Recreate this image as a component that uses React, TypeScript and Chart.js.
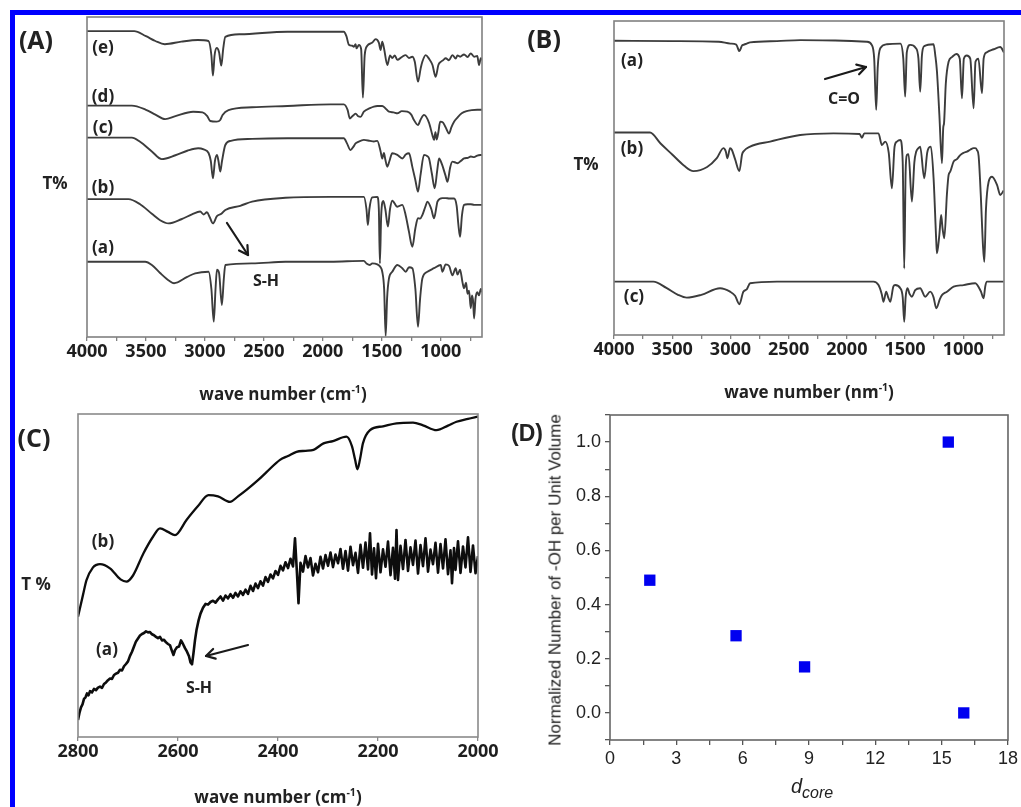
import React, { useEffect, useRef } from "react";
import { Chart, registerables } from "chart.js";

Chart.register(...registerables);

type P = [number, number];

// ---------- Panel A : FTIR spectra (wave number, relative T%) ----------
const specA_e: P[] = [[4000,95.6],[3600,95.6],[3500,94],[3420,92.5],[3340,91.5],[3200,92.3],[3060,92.8],[2970,92.5],[2945,88],[2932,81.7],[2918,88],[2900,90.3],[2880,89],[2861,84.8],[2845,90],[2827,93.8],[2700,94.6],[2300,95.4],[1935,95.4],[1822,95.4],[1800,94],[1779,91.3],[1750,91],[1737,90.7],[1722,91.5],[1714,90.2],[1694,91.3],[1675,90],[1660,74.8],[1645,88],[1623,91],[1580,92],[1552,93.1],[1525,92],[1510,89.7],[1496,92.3],[1480,90],[1453,85],[1430,88],[1411,87.2],[1390,88],[1368,86.6],[1330,87.5],[1297,88.1],[1270,87.2],[1241,87.6],[1220,86],[1193,79.8],[1170,84],[1156,86],[1128,88.1],[1100,87],[1070,85],[1043,81.3],[1020,85],[1000,86],[980,86.5],[958,87.1],[930,86.5],[901,88.1],[873,87],[858,88],[836,87.6],[802,88.3],[773,87.5],[745,88.6],[717,87.6],[690,87.8],[675,85],[660,87.1],[650,86.5]];
const specA_d: P[] = [[4000,72.3],[3620,72.3],[3500,71],[3420,69.5],[3337,68.1],[3250,69],[3100,70.4],[3020,70.2],[2980,69],[2955,67.5],[2900,67.3],[2870,67.8],[2850,69.4],[2800,70.9],[2600,71.8],[2300,72.2],[1935,72.7],[1822,72.7],[1790,71],[1771,68.3],[1750,69],[1737,69.4],[1722,69.8],[1700,69],[1680,68.8],[1652,70.4],[1600,71.5],[1567,72],[1538,72.2],[1496,72.2],[1470,71.5],[1439,70.4],[1400,70.2],[1368,69.9],[1330,70.6],[1283,70.4],[1250,69.5],[1230,68],[1193,66.25],[1170,68],[1142,69.4],[1100,67],[1070,63],[1057,61.6],[1045,64],[1034,61.7],[1020,64],[1005,67.3],[980,67],[958,65.5],[929,63.6],[910,65.5],[887,67.3],[860,68.5],[822,69.9],[780,70.6],[737,70.9],[690,71],[650,71]];
const specA_c: P[] = [[4000,62.3],[3620,62.3],[3550,61],[3450,58],[3366,55.6],[3250,56.8],[3150,58.2],[3057,59],[3010,58.6],[2969,57.5],[2950,55],[2932,49.6],[2915,55],[2898,56.9],[2885,55],[2870,51.7],[2855,55],[2827,60],[2780,61.3],[2600,61.9],[2300,62.1],[1935,62.1],[1822,62.1],[1795,60.5],[1765,58.4],[1740,59.5],[1722,60.5],[1700,61],[1652,61.6],[1600,61.3],[1567,61.1],[1538,61.3],[1510,58],[1496,55.8],[1482,57.5],[1470,55.5],[1453,53.2],[1435,55],[1411,57.4],[1368,56.9],[1326,55.8],[1297,57],[1269,57.4],[1240,53],[1215,49],[1193,45.4],[1170,51],[1142,56.9],[1113,56.5],[1099,55.8],[1075,51],[1051,46.5],[1030,52],[1014,55.8],[990,54],[960,50.5],[943,48.5],[920,53],[901,54.8],[873,54.5],[858,54.3],[830,55],[802,55.8],[770,56],[745,56.4],[717,56.2],[690,56.7],[650,56.9]];
const specA_b: P[] = [[4000,43.1],[3649,43.1],[3550,41.5],[3450,38.5],[3380,36.5],[3309,35.5],[3200,36.8],[3110,38.3],[3040,39.2],[3011,38.3],[2983,39],[2960,37.5],[2932,35.5],[2898,37.8],[2860,38.5],[2827,39.7],[2700,41],[2600,42.3],[2317,43.5],[1935,43.8],[1700,43.8],[1652,43.8],[1630,40],[1618,35],[1605,40],[1581,43.6],[1538,43.8],[1525,40],[1516,23],[1505,38],[1487,42.5],[1470,40],[1448,34.5],[1430,40],[1411,42.6],[1368,40.7],[1326,41.3],[1297,38],[1270,33],[1241,28.2],[1215,34],[1193,37.1],[1175,37],[1156,38.1],[1128,41],[1113,42.3],[1080,40],[1057,37.1],[1035,41],[1028,42.3],[986,43.4],[958,43.4],[930,43.3],[887,43.3],[865,41],[850,35],[836,31.3],[820,38],[802,41.3],[773,41.5],[745,41.5],[717,41.3],[690,41.3],[650,41.3]];
const specA_a: P[] = [[4000,23.5],[3507,23.5],[3450,22.5],[3380,20],[3300,17.5],[3262,16.8],[3150,18.8],[3082,19.9],[2969,20.4],[2945,15],[2925,4.8],[2910,15],[2898,21],[2880,20],[2856,10],[2840,18],[2827,22.5],[2600,23],[2317,23.5],[1935,23.5],[1652,23.8],[1630,23],[1600,22.5],[1581,23],[1538,22.7],[1510,21.8],[1496,20.4],[1480,15],[1467,0.3],[1455,12],[1439,18.3],[1411,20.4],[1368,22.5],[1326,21.5],[1297,20.4],[1269,21.8],[1241,21.5],[1215,15],[1193,3.2],[1175,12],[1156,18.3],[1113,20.4],[1057,21.5],[1000,22.5],[986,20.4],[958,22.7],[929,22.2],[901,19.3],[873,21.5],[858,19.5],[836,21],[815,17],[802,15.2],[785,17],[773,13.5],[760,14.5],[745,9],[735,13],[725,11],[717,5.8],[705,12],[690,14],[675,13],[660,15],[650,14]];

// ---------- Panel B ----------
const specB_a: P[] = [[4000,93.7],[3500,93.6],[3100,93.4],[3000,92.8],[2950,92.5],[2923,90.4],[2900,92.2],[2889,92.4],[2860,92.8],[2831,93.2],[2600,93.6],[2401,93.9],[2100,93.8],[1828,93.4],[1785,92.3],[1765,88],[1748,71.7],[1735,85],[1713,91.3],[1656,92.6],[1540,92.8],[1515,88],[1499,75.9],[1485,90],[1456,92.4],[1410,91.5],[1385,88],[1370,77.5],[1355,89],[1335,92],[1255,92.6],[1240,89],[1226,84],[1205,70],[1183,54.7],[1172,66],[1165,67.5],[1150,80],[1126,87],[1097,88.5],[1060,89.5],[1030,88],[1011,75.4],[995,88],[970,89],[940,88],[911,72.2],[895,87],[870,88],[839,77],[825,88],[800,90],[739,91],[682,91.7],[650,90]];
const specB_b: P[] = [[4000,64.5],[3691,64.5],[3600,61],[3500,57.5],[3400,54],[3318,52.2],[3200,53.5],[3117,56.3],[3060,59.5],[3040,58.5],[3026,56.3],[3003,59.5],[2988,59],[2960,56],[2923,52.2],[2900,57.5],[2889,58.4],[2831,60],[2659,61.6],[2401,63.7],[2115,64.2],[1890,64],[1871,62.8],[1850,64.2],[1728,64.2],[1699,60.5],[1670,61.6],[1640,58],[1613,46.7],[1590,60],[1570,61.6],[1541,62.1],[1520,55],[1507,21.2],[1495,52],[1484,57.3],[1470,57.6],[1441,42.5],[1420,55],[1404,58.4],[1385,59.5],[1370,60],[1335,49.9],[1310,58],[1298,59.5],[1278,60],[1255,50],[1232,30],[1226,26],[1205,32],[1190,38.2],[1178,34],[1163,30.8],[1140,45],[1126,50.9],[1112,52],[1083,55.2],[1054,56],[1026,57.3],[997,58],[968,58.4],[940,59],[911,59.5],[897,59.5],[882,58.9],[868,57],[850,45],[830,28],[819,23.3],[805,40],[782,48.8],[753,50.4],[710,47.8],[682,44.6],[653,46]];
const specB_c: P[] = [[4000,17],[3662,17],[3550,15],[3450,12.8],[3375,11.9],[3250,12.8],[3089,14.9],[3003,13.8],[2960,12.5],[2923,9.8],[2889,13.8],[2860,14.5],[2831,16.5],[2600,17],[2401,17],[1771,17],[1728,15.9],[1700,13],[1685,10.6],[1662,13.8],[1645,12],[1627,10.6],[1600,15.5],[1585,15.9],[1541,14.9],[1520,12],[1507,4.2],[1495,12],[1479,14.9],[1460,13],[1441,12.2],[1413,14.3],[1370,14.9],[1327,12.2],[1284,13.8],[1255,12],[1232,8.5],[1200,11.5],[1183,12.7],[1140,13.8],[1083,15.4],[997,15.9],[897,16.5],[850,14],[825,11.7],[811,15.5],[796,17],[653,17]];

// ---------- Panel C ----------
const specC_b: P[] = [[2800,37.2],[2790,44],[2783,48.6],[2770,52.5],[2763,53.3],[2756,53.5],[2736,52.2],[2715,48.8],[2703,48.1],[2690,50],[2669,56.9],[2650,62],[2636,64.6],[2620,63.5],[2606,62.5],[2583,67.2],[2560,71.5],[2539,74.9],[2520,74.5],[2496,72.8],[2480,74.5],[2463,76.5],[2440,79.5],[2423,82],[2396,85.8],[2380,87],[2363,88.3],[2345,88.6],[2329,88.9],[2309,90.9],[2290,91.6],[2263,93],[2252,90],[2246,86],[2241,82.9],[2236,86],[2230,91],[2216,95],[2190,96.2],[2163,97.1],[2130,97.3],[2110,96.5],[2083,95],[2060,96.4],[2043,97.6],[2020,98.5],[2000,99.2]];
const specC_a: P[] = [[2800,5.3],[2797,7.5],[2794,9.2],[2791,10.1],[2788,11.8],[2785,12.3],[2782,13.5],[2779,12.9],[2776,14.2],[2772,13.8],[2768,14.9],[2764,14.5],[2760,15.3],[2756,15.6],[2752,15.2],[2748,16.4],[2744,16.9],[2740,17.6],[2736,18.1],[2732,18.0],[2728,19.2],[2724,19.6],[2720,19.9],[2716,20.8],[2712,20.6],[2708,21.9],[2704,22.6],[2700,23.4],[2696,25.1],[2692,26.4],[2688,28.0],[2684,29.6],[2680,30.5],[2676,31.4],[2672,31.9],[2668,32.2],[2664,32.7],[2660,32.4],[2656,32.5],[2652,31.8],[2648,31.5],[2644,31.0],[2640,30.6],[2636,31.0],[2632,29.9],[2628,30.1],[2624,29.3],[2620,28.8],[2616,28.4],[2612,26.6],[2609,25.4],[2606,26.9],[2602,27.8],[2598,28.0],[2594,29.9],[2590,28.8],[2586,27.5],[2582,26.4],[2578,25.0],[2575,23.1],[2572,22.5],[2569,26.0],[2566,30.0],[2563,33.1],[2559,36.0],[2555,38.2],[2550,40.0],[2545,41.2],[2540,41.0],[2535,41.8],[2530,42.2],[2525,41.6],
  [2520,42.6],[2515,43.5],[2510,42.2],[2505,43.8],[2500,42.9],[2495,44.2],[2490,43.1],[2485,44.6],[2480,43.5],[2475,45.1],[2470,44.0],[2465,45.6],[2460,44.3],[2455,46.8],[2450,45.2],[2445,47.5],[2440,46.1],[2435,48.2],[2430,46.9],[2425,49.5],[2420,48.0],[2415,50.3],[2410,49.1],[2405,51.4],[2400,50.2],[2395,53.0],[2390,51.6],[2385,54.1],[2380,52.3],[2375,55.2],[2370,52.8],[2366,61.5],[2362,50.5],[2359,41.4],[2355,53.9],[2350,51.2],[2345,56.0],[2340,52.5],[2335,55.4],[2330,50.0],[2325,53.6],[2320,51.0],[2315,55.8],[2310,52.2],[2305,56.3],[2300,53.0],[2295,57.1],[2290,52.6],[2285,56.5],[2280,53.8],[2275,58.2],[2270,52.1],[2265,57.6],[2260,51.5],[2255,58.9],[2250,53.2],[2245,57.0],[2240,50.8],[2235,59.5],[2230,52.4],[2225,60.2],[2220,51.9],[2216,63.1],[2212,50.3],[2208,58.4],[2204,49.2],[2200,59.8],[2195,51.0],[2190,58.1],[2185,52.7],[2180,60.5],[2175,50.1],[2170,58.6],[2166,49.0],[2163,64.1],[2160,48.6],[2155,59.2],[2150,52.0],[2145,61.0],[2140,51.4],[2135,58.7],[2130,53.3],[2125,60.8],[2120,50.6],[2115,59.4],[2110,52.9],[2105,61.5],[2100,51.2],[2095,58.0],[2090,53.5],[2085,60.1],[2080,50.9],[2075,59.7],[2070,52.2],[2065,61.2],[2060,50.4],[2055,57.8],[2052,47.6],[2048,58.5],[2045,51.7],[2040,60.6],[2035,50.8],[2030,59.0],[2025,52.5],[2020,61.8],[2015,51.1],[2010,59.3],[2005,50.7],[2000,56.0]];

// ---------- Panel D ----------
const dCore = [1.8, 5.7, 8.8, 15.3, 16.0];
const ohNorm = [0.49, 0.285, 0.17, 1.0, 0.0];

// ---------- tick lists ----------
const irTicks = [4000, 3750, 3500, 3250, 3000, 2750, 2500, 2250, 2000, 1750, 1500, 1250, 1000, 750];
const irTickLabels = ["4000", "", "3500", "", "3000", "", "2500", "", "2000", "", "1500", "", "1000", ""];
const cTicks = [2800, 2600, 2400, 2200, 2000];
const cTickLabels = ["2800", "2600", "2400", "2200", "2000"];
const dXTicks = [0, 1.5, 3, 4.5, 6, 7.5, 9, 10.5, 12, 13.5, 15, 16.5, 18];
const dXTickLabels = ["0", "", "3", "", "6", "", "9", "", "12", "", "15", "", "18"];
const dYTicks = [-0.1, 0, 0.1, 0.2, 0.3, 0.4, 0.5, 0.6, 0.7, 0.8, 0.9, 1.0, 1.1];
const dYTickLabels = ["", "0.0", "", "0.2", "", "0.4", "", "0.6", "", "0.8", "", "1.0", ""];

const SANS = "'Open Sans', 'DejaVu Sans', sans-serif";
const ARIAL = "'Liberation Sans', Arial, sans-serif";

function framePlugin(color: string, width: number) {
  return {
    id: "frame",
    afterDraw(chart: any) {
      const { ctx, chartArea } = chart;
      ctx.save();
      ctx.strokeStyle = color;
      ctx.lineWidth = width;
      ctx.strokeRect(chartArea.left, chartArea.top, chartArea.right - chartArea.left, chartArea.bottom - chartArea.top);
      ctx.restore();
    },
  };
}

interface SpecOpts {
  series: P[][];
  smooth: boolean[];
  widths: number[];
  xMin: number;
  xMax: number;
  ticks: number[];
  tickLabels: string[];
  padTop: number;
  padRight: number;
  yWidth: number;
  xHeight: number;
  lineColor: string;
  frameColor: string;
}

function spectrumConfig(o: SpecOpts): any {
  return {
    type: "line",
    data: {
      datasets: o.series.map((s, i) => ({
        data: s.map(([x, y]) => ({ x, y })),
        borderColor: o.lineColor,
        borderWidth: o.widths[i],
        pointRadius: 0,
        tension: o.smooth[i] ? 0.4 : 0,
        cubicInterpolationMode: o.smooth[i] ? "monotone" : "default",
        fill: false,
        borderJoinStyle: "round",
      })),
    },
    options: {
      responsive: false,
      animation: false,
      events: [],
      layout: { padding: { top: o.padTop, right: o.padRight, left: 0, bottom: 0 } },
      plugins: { legend: { display: false }, tooltip: { enabled: false } },
      scales: {
        x: {
          type: "linear",
          reverse: true,
          min: o.xMin,
          max: o.xMax,
          afterBuildTicks: (s: any) => {
            s.ticks = o.ticks.map((v) => ({ value: v }));
          },
          ticks: {
            autoSkip: false,
            maxRotation: 0,
            padding: 0,
            color: "#1e1e1e",
            font: { family: SANS, weight: "bold", size: 18 },
            callback: (_v: any, i: number) => o.tickLabels[i],
          },
          grid: { drawOnChartArea: false, drawTicks: true, tickLength: 4, color: o.frameColor, lineWidth: 1.3 },
          border: { display: false },
          afterFit: (s: any) => {
            s.height = o.xHeight;
          },
        },
        y: {
          type: "linear",
          min: 0,
          max: 100,
          ticks: { display: false },
          grid: { display: false },
          border: { display: false },
          afterFit: (s: any) => {
            s.width = o.yWidth;
          },
        },
      },
    },
    plugins: [framePlugin(o.frameColor, 1.6)],
  };
}

function scatterConfig(): any {
  return {
    type: "scatter",
    data: {
      datasets: [
        {
          data: dCore.map((x, i) => ({ x, y: ohNorm[i] })),
          pointStyle: "rect",
          pointRadius: 8,
          backgroundColor: "#0000f0",
          borderColor: "#0000f0",
          borderWidth: 0,
        },
      ],
    },
    options: {
      responsive: false,
      animation: false,
      events: [],
      layout: { padding: { top: 15, right: 9, left: 0, bottom: 0 } },
      plugins: { legend: { display: false }, tooltip: { enabled: false } },
      scales: {
        x: {
          type: "linear",
          min: 0,
          max: 18,
          afterBuildTicks: (s: any) => {
            s.ticks = dXTicks.map((v) => ({ value: v }));
          },
          ticks: {
            autoSkip: false,
            maxRotation: 0,
            padding: 3,
            color: "#222",
            font: { family: ARIAL, size: 18 },
            callback: (_v: any, i: number) => dXTickLabels[i],
          },
          grid: { drawOnChartArea: false, drawTicks: true, tickLength: 5, color: "#555", lineWidth: 1.3 },
          border: { display: false },
          afterFit: (s: any) => {
            s.height = 67;
          },
        },
        y: {
          type: "linear",
          min: -0.1,
          max: 1.1,
          afterBuildTicks: (s: any) => {
            s.ticks = dYTicks.map((v) => ({ value: v }));
          },
          ticks: {
            autoSkip: false,
            padding: 4,
            color: "#222",
            font: { family: ARIAL, size: 18 },
            callback: (_v: any, i: number) => dYTickLabels[i],
          },
          grid: { drawOnChartArea: false, drawTicks: true, tickLength: 5, color: "#555", lineWidth: 1.3 },
          border: { display: false },
          afterFit: (s: any) => {
            s.width = 100;
          },
        },
      },
    },
    plugins: [framePlugin("#666", 1.6)],
  };
}

function ChartBox(props: { left: number; top: number; width: number; height: number; make: () => any }) {
  const ref = useRef<HTMLCanvasElement>(null);
  useEffect(() => {
    const chart = new Chart(ref.current as HTMLCanvasElement, props.make());
    return () => chart.destroy();
  }, []);
  return (
    <div style={{ position: "absolute", left: props.left, top: props.top, width: props.width, height: props.height }}>
      <canvas ref={ref} width={props.width} height={props.height} style={{ width: props.width, height: props.height, display: "block" }} />
    </div>
  );
}

function Txt(props: { x: number; y: number; size: number; bold?: boolean; family?: string; rotate?: boolean; italic?: boolean; children: any }) {
  return (
    <div
      style={{
        position: "absolute",
        left: props.x,
        top: props.y,
        transform: "translate(-50%, -50%)" + (props.rotate ? " rotate(-90deg)" : ""),
        fontFamily: props.family || SANS,
        fontSize: props.size,
        fontWeight: props.bold ? 700 : 400,
        fontStyle: props.italic ? "italic" : "normal",
        whiteSpace: "nowrap",
        lineHeight: 1,
        color: "#222",
      }}
    >
      {props.children}
    </div>
  );
}

function Sup(props: { children: any }) {
  return <span style={{ fontSize: "0.62em", position: "relative", top: "-0.65em" }}>{props.children}</span>;
}

function Arrow(props: { x1: number; y1: number; x2: number; y2: number; w?: number }) {
  const { x1, y1, x2, y2 } = props;
  const dx = x2 - x1;
  const dy = y2 - y1;
  const L = Math.hypot(dx, dy);
  const ux = dx / L;
  const uy = dy / L;
  const h = 10;
  const a = Math.PI / 6;
  const p1x = x2 - h * (ux * Math.cos(a) - uy * Math.sin(a));
  const p1y = y2 - h * (uy * Math.cos(a) + ux * Math.sin(a));
  const p2x = x2 - h * (ux * Math.cos(-a) - uy * Math.sin(-a));
  const p2y = y2 - h * (uy * Math.cos(-a) + ux * Math.sin(-a));
  return (
    <g stroke="#1a1a1a" strokeWidth={props.w || 2.2} fill="none" strokeLinecap="round" strokeLinejoin="round">
      <line x1={x1} y1={y1} x2={x2} y2={y2} />
      <polyline points={`${p1x},${p1y} ${x2},${y2} ${p2x},${p2y}`} />
    </g>
  );
}

export default function App() {
  return (
    <div style={{ position: "fixed", left: 0, top: 0, width: 1021, height: 807, overflow: "hidden", background: "#fff" }}>
      <ChartBox
        left={0}
        top={0}
        width={510}
        height={400}
        make={() =>
          spectrumConfig({
            series: [specA_e, specA_d, specA_c, specA_b, specA_a],
            smooth: [true, true, true, true, true],
            widths: [1.9, 1.9, 1.9, 1.9, 1.9],
            xMin: 650,
            xMax: 4000,
            ticks: irTicks,
            tickLabels: irTickLabels,
            padTop: 17,
            padRight: 28,
            yWidth: 87,
            xHeight: 63,
            lineColor: "#3c3c3c",
            frameColor: "#808080",
          })
        }
      />
      <ChartBox
        left={510}
        top={0}
        width={511}
        height={400}
        make={() =>
          spectrumConfig({
            series: [specB_a, specB_b, specB_c],
            smooth: [true, true, true],
            widths: [1.9, 1.9, 1.9],
            xMin: 650,
            xMax: 4000,
            ticks: irTicks,
            tickLabels: irTickLabels,
            padTop: 21,
            padRight: 17,
            yWidth: 104,
            xHeight: 65,
            lineColor: "#3c3c3c",
            frameColor: "#808080",
          })
        }
      />
      <ChartBox
        left={0}
        top={400}
        width={510}
        height={407}
        make={() =>
          spectrumConfig({
            series: [specC_b, specC_a],
            smooth: [true, false],
            widths: [2.3, 2.6],
            xMin: 2000,
            xMax: 2800,
            ticks: cTicks,
            tickLabels: cTickLabels,
            padTop: 14,
            padRight: 32,
            yWidth: 78,
            xHeight: 70,
            lineColor: "#0d0d0d",
            frameColor: "#8a8a8a",
          })
        }
      />
      <ChartBox left={510} top={400} width={511} height={407} make={scatterConfig} />

      {/* Panel A texts */}
      <Txt x={36} y={39} size={25} bold>(A)</Txt>
      <Txt x={55} y={182} size={17} bold>T%</Txt>
      <Txt x={103} y={46} size={17} bold>(e)</Txt>
      <Txt x={103} y={95} size={17} bold>(d)</Txt>
      <Txt x={103} y={126} size={17} bold>(c)</Txt>
      <Txt x={103} y={186} size={17} bold>(b)</Txt>
      <Txt x={103} y={246} size={17} bold>(a)</Txt>
      <Txt x={266} y={280} size={16} bold>S-H</Txt>
      <Txt x={283} y={393} size={17} bold>
        wave number (cm<Sup>-1</Sup>)
      </Txt>

      {/* Panel B texts */}
      <Txt x={544} y={38} size={25} bold>(B)</Txt>
      <Txt x={586} y={163} size={17} bold>T%</Txt>
      <Txt x={632} y={59} size={17} bold>(a)</Txt>
      <Txt x={632} y={147} size={17} bold>(b)</Txt>
      <Txt x={634} y={295} size={17} bold>(c)</Txt>
      <Txt x={844} y={98} size={16} bold>C=O</Txt>
      <Txt x={809} y={391} size={17} bold>
        wave number (nm<Sup>-1</Sup>)
      </Txt>

      {/* Panel C texts */}
      <Txt x={34} y={437} size={25} bold>(C)</Txt>
      <Txt x={36} y={583} size={17} bold>T %</Txt>
      <Txt x={103} y={540} size={17} bold>(b)</Txt>
      <Txt x={107} y={648} size={17} bold>(a)</Txt>
      <Txt x={199} y={687} size={16} bold>S-H</Txt>
      <Txt x={278} y={796} size={17} bold>
        wave number (cm<Sup>-1</Sup>)
      </Txt>

      {/* Panel D texts */}
      <Txt x={527} y={433} size={23} bold family={ARIAL}>(D)</Txt>
      <Txt x={555} y={580} size={17} family={ARIAL} rotate>
        Normalized Number of -OH per Unit Volume
      </Txt>
      <Txt x={812} y={786} size={20} family={ARIAL} italic>
        d<span style={{ fontSize: "0.8em", position: "relative", top: "0.3em" }}>core</span>
      </Txt>

      <svg width={1021} height={807} style={{ position: "absolute", left: 0, top: 0, pointerEvents: "none" }}>
        <Arrow x1={227} y1={223} x2={248} y2={255} />
        <Arrow x1={825} y1={79} x2={866} y2={67} />
        <Arrow x1={248} y1={645} x2={206} y2={656} />
      </svg>

      {/* blue frame */}
      <div style={{ position: "absolute", left: 10, top: 10, width: 1100, height: 5, background: "#0000ff" }} />
      <div style={{ position: "absolute", left: 10, top: 10, width: 5, height: 900, background: "#0000ff" }} />
    </div>
  );
}
